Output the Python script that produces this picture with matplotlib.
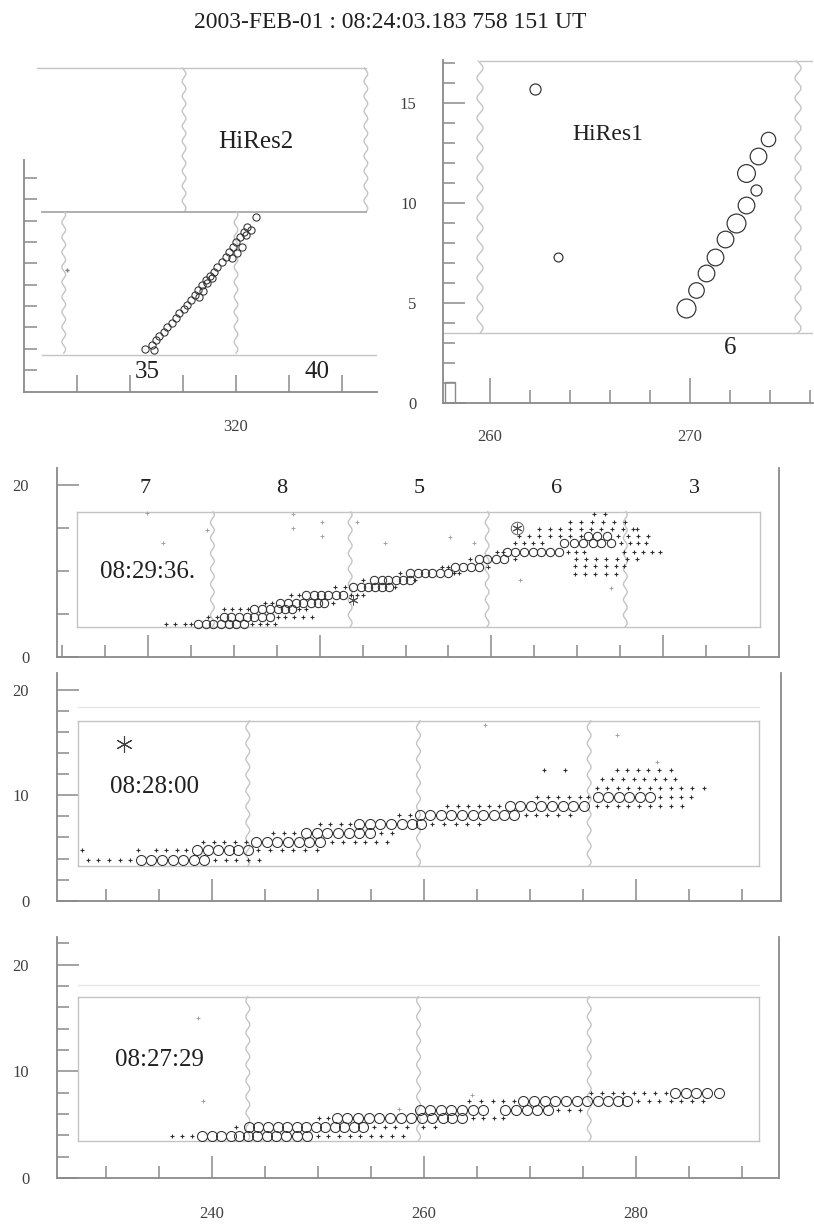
import numpy as np
import matplotlib
matplotlib.use('Agg')
import matplotlib.pyplot as plt
from matplotlib.patches import Rectangle

plt.rcParams['font.family'] = ['Liberation Serif', 'DejaVu Serif']

title = '2003-FEB-01 : 08:24:03.183 758 151 UT'

# ---- HiRes2 (top left) : azimuth / elevation of hit tubes
hr2_az = [316.55, 316.82, 316.97, 317.09, 317.28, 317.41, 317.57, 317.72, 317.85, 318.04,
          318.16, 318.29, 318.45, 318.58, 318.73, 318.86, 319.01, 319.17, 319.30, 319.46,
          319.61, 319.74, 319.89, 320.01, 320.14, 320.30, 320.43, 320.77,
          316.91, 318.60, 318.75, 318.92, 319.11, 319.86, 320.05, 320.21, 320.36, 320.55]
hr2_el = [1.99, 2.18, 2.41, 2.60, 2.80, 3.04, 3.22, 3.43, 3.66, 3.85,
          4.05, 4.29, 4.52, 4.75, 4.99, 5.22, 5.41, 5.61, 5.85, 6.08,
          6.32, 6.55, 6.78, 7.02, 7.25, 7.49, 7.72, 8.16,
          1.94, 4.45, 4.72, 5.07, 5.30, 6.24, 6.47, 6.78, 7.33, 7.56]
hr2_stray_az = [313.64]
hr2_stray_el = [5.69]
hr2_mirror_labels = ['35', '40']
hr2_mirror_az = [316.64, 323.06]

# ---- HiRes1 (top right)
hr1_az = [262.25, 263.4, 269.8, 270.3, 270.8, 271.25, 271.75, 272.3, 272.8, 273.3, 272.8, 273.4, 273.9]
hr1_el = [15.7, 7.3, 4.77, 5.65, 6.5, 7.3, 8.2, 9.0, 9.9, 10.65, 11.5, 12.35, 13.2]
hr1_size = [10, 8, 17, 14, 15, 15, 15, 17, 15, 10, 16, 15, 13]

# ---- panel A 08:29:36.
a_rows_el = [3.81, 4.66, 5.52, 6.3, 7.19, 8.16, 8.94, 9.72, 10.5, 11.35, 12.24, 13.2, 14.07,
             14.9, 15.7, 10.6, 9.7, 16.6]
a_dots = [[222.1, 223.2, 224.3, 225.0, 232.1, 233.0, 233.9, 234.8],
          [227.0, 228.0, 235.1, 236.0, 237.0, 238.0, 239.1],
          [228.8, 229.8, 230.7, 231.6, 237.6, 238.4],
          [233.6, 234.5, 241.5],
          [236.7, 237.6, 243.6, 244.4, 245.1],
          [241.8, 242.9, 248.8],
          [245.1, 251.1],
          [249.4, 255.6, 256.2],
          [254.2, 255.0, 259.6],
          [257.5, 262.7, 269.8, 271.0, 272.2, 273.4, 274.6, 275.8, 277.0],
          [260.6, 261.4, 268.9, 269.9, 270.8, 275.4, 276.6, 277.7, 278.7, 279.6],
          [262.7, 263.8, 264.9, 265.9, 275.1, 276.1, 277.1, 278.0],
          [263.2, 264.4, 265.6, 266.8, 268.0, 269.2, 270.4, 274.8, 275.9, 277.1, 278.2],
          [265.6, 266.8, 268.0, 269.2, 270.4, 271.6, 272.8, 274.0, 275.3, 276.5, 277.0],
          [269.1, 270.4, 271.7, 273.0, 274.3, 275.6],
          [269.7, 270.9, 272.1, 273.3, 274.5, 275.5],
          [269.7, 270.9, 272.1, 273.3, 274.5],
          [272.0, 273.2]]
a_circ = [[225.8, 226.7, 227.6, 228.5, 229.4, 230.3, 231.2],
          [228.8, 229.7, 230.6, 231.5, 232.4, 233.3, 234.2],
          [232.4, 233.3, 234.2, 235.1, 236.0, 236.8],
          [235.4, 236.3, 237.2, 238.1, 239.0, 239.8, 240.5],
          [238.4, 239.3, 240.2, 241.0, 241.9, 242.7],
          [243.9, 244.8, 245.6, 246.4, 247.3, 248.1],
          [246.3, 247.2, 248.0, 248.9, 249.7, 250.5],
          [250.5, 251.4, 252.3, 253.1, 254.0, 254.9],
          [255.8, 256.7, 257.6, 258.5],
          [258.5, 259.5, 260.5, 261.5],
          [261.8, 262.8, 263.8, 264.8, 265.8, 266.8, 267.9],
          [268.5, 269.6, 270.7, 271.8, 272.8, 273.9],
          [271.2, 272.3, 273.5],
          [], [], [], [], []]
a_stray_az = [219.9, 221.8, 226.9, 236.9, 236.9, 240.3, 240.3, 244.4, 247.6, 255.2, 258.0, 273.9, 263.3]
a_stray_el = [16.7, 13.25, 14.8, 16.6, 15.0, 15.7, 14.07, 15.7, 13.25, 14.0, 13.25, 8.0, 8.9]
a_star_az = [263.0, 243.9]
a_star_el = [15.0, 6.6]
a_mirror_labels = ['7', '8', '5', '6', '3']
a_mirror_az = [219.6, 235.6, 251.6, 267.6, 283.6]
a_edges = [211.7, 227.5, 243.55, 259.5, 275.6, 291.3]
a_box_el = [3.5, 16.9]

# ---- panel B 08:28:00
b_rows_el = [3.9, 4.78, 5.6, 6.45, 7.3, 8.12, 9.0, 9.86, 10.7, 11.5, 12.4]
b_dots = [[228.3, 229.3, 230.3, 231.3, 232.3, 240.3, 241.3, 242.3, 243.4, 244.5],
          [227.8, 233.0, 234.7, 235.7, 236.7, 237.6, 244.4, 245.5, 246.6, 247.7, 248.8, 249.9],
          [239.2, 240.2, 241.2, 242.2, 243.2, 251.3, 252.4, 253.5, 254.5, 255.5, 256.5],
          [245.8, 246.8, 247.8, 256.0, 257.0],
          [250.2, 251.2, 252.2, 253.0, 260.8, 261.9, 263.0, 264.1, 265.2],
          [257.7, 258.7, 269.6, 270.6, 271.6, 272.7, 273.8],
          [262.2, 263.2, 264.2, 265.2, 266.2, 267.1, 276.3, 277.3, 278.3, 279.3, 280.3,
           281.3, 282.3, 283.3, 284.4],
          [270.7, 271.7, 272.7, 273.7, 274.7, 275.5, 282.3, 283.3, 284.3, 285.2],
          [276.3, 277.3, 278.3, 279.3, 280.3, 281.3, 282.3, 283.3, 284.3, 285.3, 286.4],
          [276.8, 277.8, 278.8, 279.8, 280.8, 281.8, 282.8, 283.7],
          [271.3, 273.3, 278.2, 279.2, 280.2, 281.2, 282.2, 283.3]]
b_circ = [[233.3, 234.3, 235.3, 236.3, 237.3, 238.3, 239.3],
          [238.6, 239.6, 240.6, 241.6, 242.5, 243.4],
          [244.2, 245.2, 246.2, 247.2, 248.2, 249.2, 250.2],
          [248.9, 249.9, 250.9, 251.9, 252.9, 253.9, 254.9],
          [253.9, 254.9, 255.9, 256.9, 257.9, 258.9, 259.7],
          [259.6, 260.6, 261.6, 262.6, 263.6, 264.6, 265.6, 266.6, 267.6, 268.5],
          [268.1, 269.1, 270.1, 271.1, 272.1, 273.1, 274.1, 275.1],
          [276.4, 277.4, 278.4, 279.4, 280.4, 281.3],
          [], [], []]
b_stray_az = [282.0, 278.2, 265.8]
b_stray_el = [13.2, 15.7, 16.65]
b_star_az = [231.7]
b_star_el = [14.9]
b_edges = [227.4, 243.4, 259.5, 275.6, 291.6]
b_box_el = [3.3, 17.06]

# ---- panel C 08:27:29
c_rows_el = [3.95, 4.8, 5.6, 6.42, 7.2, 8.0]
c_dots = [[236.2, 237.2, 238.1, 250.0, 251.0, 252.0, 253.0, 254.0, 255.0, 256.0, 257.0, 258.0],
          [242.3, 255.3, 256.3, 257.3, 258.4, 259.9, 261.1],
          [250.1, 251.0, 264.6, 265.6, 266.6, 267.5],
          [272.7, 273.7, 274.7],
          [264.3, 265.4, 266.5, 267.5, 268.5, 280.2, 281.2, 282.2, 283.3, 284.3, 285.3, 286.3],
          [275.8, 276.8, 277.8, 278.8, 279.8, 280.8, 281.8, 282.8]]
c_circ = [[239.1, 240.0, 240.9, 241.8, 242.6, 243.4, 244.3, 245.2, 246.1, 247.0, 248.0, 249.0],
          [243.5, 244.4, 245.3, 246.2, 247.1, 248.0, 248.9, 249.8, 250.7, 251.6, 252.5, 253.4, 254.3],
          [251.8, 252.8, 253.8, 254.8, 255.8, 256.8, 257.8, 258.8, 259.8, 260.8, 261.8, 262.7, 263.6],
          [259.6, 260.6, 261.6, 262.6, 263.6, 264.6, 265.6, 267.7, 268.7, 269.7, 270.7, 271.7],
          [269.4, 270.4, 271.4, 272.4, 273.4, 274.4, 275.4, 276.4, 277.4, 278.3, 279.2],
          [283.7, 284.7, 285.7, 286.7, 287.8]]
c_stray_az = [238.7, 239.2, 257.7, 264.5]
c_stray_el = [15.0, 7.26, 6.46, 7.8]
c_edges = [227.4, 243.4, 259.5, 275.6, 291.6]
c_box_el = [3.5, 17.0]

W, H = 814, 1226
AX = '#8a8a8a'
BOX = '#c4c4c4'
INK = '#303030'
fig = plt.figure(figsize=(W / 100, H / 100), dpi=100)


def axes_px(left, right, top, bottom):
    return fig.add_axes([left / W, 1 - bottom / H, (right - left) / W, (bottom - top) / H])


def wavy(ax, x0, y0, y1, amp, per, **kw):
    t = np.linspace(y0, y1, 300)
    ax.plot(x0 + amp * np.sin(2 * np.pi * (t - y0) / per), t, **kw)


def frame(ax, right=True):
    for s in ax.spines.values():
        s.set_color(AX)
        s.set_linewidth(1.3)
    ax.spines['top'].set_visible(False)
    ax.spines['right'].set_visible(right)
    ax.tick_params(which='both', direction='in', color=AX, width=1.1,
                   labelsize=12, labelcolor='#404040')
    ax.tick_params(which='major', length=16)
    ax.tick_params(which='minor', length=8.5)
    ax.tick_params(axis='y', which='both', right=False)
    ax.tick_params(axis='x', which='both', top=False)


def hits(ax, rows_el, dots, circ, ms):
    for el, dx, cx in zip(rows_el, dots, circ):
        ax.plot(dx, [el] * len(dx), '+', color=INK, ms=3.2, mew=0.8)
        ax.plot(cx, [el] * len(cx), 'o', mfc='none', mec=INK, ms=ms, mew=0.75)


def boxes(ax, edges, box_el, amp, per):
    for i, e in enumerate(edges):
        if 0 < i < len(edges) - 1:
            wavy(ax, e, box_el[0], box_el[1], amp, per, color=BOX, lw=1.0)
        else:
            ax.plot([e, e], box_el, color=BOX, lw=1.0)
    for el in box_el:
        ax.plot([edges[0], edges[-1]], [el, el], color=BOX, lw=1.0)


fig.text(390 / W, 1 - 22 / H, title, ha='center', va='center', fontsize=17, color='#202020')

# ---------------- HiRes2
ax1 = axes_px(24, 377, 60, 391.5)
ax1.set_xlim(312, 325.32)
ax1.set_ylim(0, 15.53)
frame(ax1, right=False)
ax1.spines['left'].set_bounds(0, 10.84)
ax1.set_xticks([320])
ax1.set_xticklabels(['320'])
ax1.set_xticks([314, 316, 318, 322, 324], minor=True)
ax1.tick_params(axis='x', which='both', length=12, pad=20)
ax1.set_yticks([])
ax1.set_yticks(range(1, 11), minor=True)
ax1.tick_params(axis='y', which='minor', length=9)
ax1.plot([312.5, 324.9], [15.15, 15.15], color=BOX, lw=1.0)
wavy(ax1, 324.9, 8.41, 15.15, 0.07, 0.7, color=BOX, lw=1.0)
wavy(ax1, 318.04, 8.41, 15.15, 0.07, 0.7, color=BOX, lw=1.0)
ax1.plot([312.68, 324.9], [8.41, 8.41], color='#a8a8a8', lw=1.3)
wavy(ax1, 313.5, 1.80, 8.41, 0.07, 0.7, color=BOX, lw=1.0)
wavy(ax1, 320.0, 1.80, 8.41, 0.07, 0.7, color=BOX, lw=1.0)
ax1.plot([312.68, 325.3], [1.71, 1.71], color=BOX, lw=1.0)
ax1.plot(hr2_az, hr2_el, 'o', mfc='none', mec=INK, ms=5.2, mew=0.75)
ax1.plot(hr2_stray_az, hr2_stray_el, '+', color='#808080', ms=3)
ax1.text(320.75, 11.69, 'HiRes2', ha='center', va='center', fontsize=18, color='#202020')
for lab, az in zip(hr2_mirror_labels, hr2_mirror_az):
    ax1.text(az, 0.91, lab, ha='center', va='center', fontsize=18, color='#202020')

# ---------------- HiRes1
ax2 = axes_px(443, 813, 60, 403)
ax2.set_xlim(257.65, 276.15)
ax2.set_ylim(0, 17.15)
frame(ax2, right=False)
ax2.set_xticks([260, 270])
ax2.set_xticks([262, 264, 266, 268, 272, 274, 276], minor=True)
ax2.tick_params(axis='x', which='major', length=18, pad=19)
ax2.tick_params(axis='x', which='minor', length=9.5)
ax2.set_yticks([0, 5, 10, 15])
ax2.set_yticks(range(1, 18), minor=True)
ax2.tick_params(axis='y', which='major', length=16, pad=19)
ax2.add_patch(Rectangle((257.75, 0), 0.5, 1.05, fill=False, ec=AX, lw=1.0))
ax2.plot([259.5, 276.15], [17.1, 17.1], color=BOX, lw=1.0)
ax2.plot([257.65, 276.15], [3.5, 3.5], color=BOX, lw=1.0)
wavy(ax2, 259.5, 3.5, 17.1, 0.15, 1.0, color=BOX, lw=1.0)
wavy(ax2, 275.4, 3.5, 17.1, 0.15, 1.0, color=BOX, lw=1.0)
for az, el, s in zip(hr1_az, hr1_el, hr1_size):
    ax2.plot(az, el, 'o', mfc='none', mec=INK, ms=s * 0.8, mew=0.85)
ax2.text(265.9, 13.4, 'HiRes1', ha='center', va='center', fontsize=17, color='#202020')
ax2.text(272.0, 2.75, '6', ha='center', va='center', fontsize=18, color='#202020')

# ---------------- panel A
ax3 = axes_px(57, 779, 468, 656.7)
ax3.set_xlim(209.4, 293.5)
ax3.set_ylim(0, 22.0)
frame(ax3)
ax3.set_xticks([220, 240, 260, 280])
ax3.set_xticklabels([])
ax3.set_xticks(range(210, 295, 5), minor=True)
ax3.set_yticks([0, 20])
ax3.set_yticks([5, 10, 15], minor=True)
ax3.tick_params(axis='y', which='major', pad=20)
boxes(ax3, a_edges, a_box_el, 0.22, 1.8)
ax3.plot(a_stray_az, a_stray_el, '+', color='#9a9a9a', ms=3, mew=0.6)
hits(ax3, a_rows_el, a_dots, a_circ, 6.0)
ax3.plot(a_star_az[:1], a_star_el[:1], 'o', mfc='none', mec='#606060', ms=9, mew=0.7)
ax3.plot(a_star_az, a_star_el, marker=(6, 2, 0), ls='none', color='#505050', ms=7, mew=0.7)
for lab, az in zip(a_mirror_labels, a_mirror_az):
    ax3.text(az, 19.66, lab, ha='center', va='center', fontsize=16, color='#202020')
ax3.text(219.9, 9.87, '08:29:36.', ha='center', va='center', fontsize=18, color='#202020')

# ---------------- panel B
ax4 = axes_px(57, 781, 673, 900.7)
ax4.set_xlim(225.4, 293.7)
ax4.set_ylim(0, 21.6)
frame(ax4)
ax4.set_xticks([240, 260, 280])
ax4.set_xticklabels([])
ax4.set_xticks(range(230, 295, 5), minor=True)
ax4.set_yticks([0, 10, 20])
ax4.set_yticks(range(2, 21, 2), minor=True)
ax4.tick_params(axis='y', which='major', pad=20)
ax4.plot([227.4, 291.6], [18.4, 18.4], color='#e6e6e6', lw=1.0)
boxes(ax4, b_edges, b_box_el, 0.18, 1.5)
ax4.plot(b_stray_az, b_stray_el, '+', color='#9a9a9a', ms=3, mew=0.6)
hits(ax4, b_rows_el, b_dots, b_circ, 7.2)
ax4.plot(b_star_az, b_star_el, marker=(6, 2, 0), ls='none', color='#404040', ms=12, mew=0.8)
ax4.text(234.6, 10.75, '08:28:00', ha='center', va='center', fontsize=18, color='#202020')

# ---------------- panel C
ax5 = axes_px(57, 779, 937, 1178)
ax5.set_xlim(225.4, 293.5)
ax5.set_ylim(0, 22.6)
frame(ax5)
ax5.set_xticks([240, 260, 280])
ax5.set_xticks(range(230, 295, 5), minor=True)
ax5.tick_params(axis='x', which='major', pad=20)
ax5.set_yticks([0, 10, 20])
ax5.set_yticks(range(2, 23, 2), minor=True)
ax5.tick_params(axis='y', which='major', pad=20)
ax5.plot([227.4, 291.6], [18.1, 18.1], color='#e6e6e6', lw=1.0)
boxes(ax5, c_edges, c_box_el, 0.18, 1.5)
ax5.plot(c_stray_az, c_stray_el, '+', color='#9a9a9a', ms=3, mew=0.6)
hits(ax5, c_rows_el, c_dots, c_circ, 7.2)
ax5.text(235.1, 11.08, '08:27:29', ha='center', va='center', fontsize=18, color='#202020')

fig.savefig('out.png', dpi=100)
